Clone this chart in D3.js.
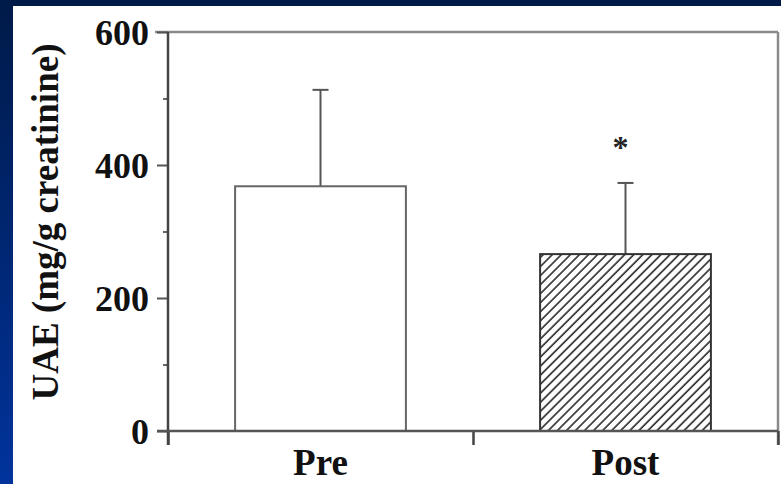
<!DOCTYPE html>
<html><head><meta charset="utf-8">
<script src="https://cdn.jsdelivr.net/npm/d3@7"></script>
<style>html,body{margin:0;padding:0;background:#fff;overflow:hidden}</style>
</head><body>
<svg id="c" width="781" height="484"></svg>
<script>
const categories = ["Pre", "Post"];
const means = [368, 266];
const sds = [145, 107];
const significant = [false, true];
const majorTicks = [0, 200, 400, 600];
const minorTicks = [100, 300, 500];
const yTitle = "UAE (mg/g creatinine)";

const svg = d3.select("#c");
const defs = svg.append("defs");
const grad = defs.append("linearGradient").attr("id","lb").attr("x1",0).attr("y1",0).attr("x2",0).attr("y2",1);
grad.append("stop").attr("offset","0%").attr("stop-color","#001a48");
grad.append("stop").attr("offset","100%").attr("stop-color","#00339c");
const pat = defs.append("pattern").attr("id","hatch").attr("patternUnits","userSpaceOnUse")
  .attr("width",6.4).attr("height",6.4).attr("patternTransform","rotate(45)");
pat.append("rect").attr("width",6.4).attr("height",6.4).attr("fill","#fff");
pat.append("line").attr("x1",1).attr("y1",0).attr("x2",1).attr("y2",6.4).attr("stroke","#2a2a2a").attr("stroke-width",1.6);

// background bands
svg.append("rect").attr("x",0).attr("y",0).attr("width",781).attr("height",484).attr("fill","#fff");
svg.append("rect").attr("x",0).attr("y",0).attr("width",781).attr("height",6).attr("fill","#001a48");
svg.append("rect").attr("x",0).attr("y",0).attr("width",13).attr("height",484).attr("fill","url(#lb)");

const L = 168, R = 778, T = 32, B = 431;
const y = d3.scaleLinear().domain([0, 600]).range([B, T]);
const x = d3.scaleBand().domain(categories).range([L, R]).paddingInner(0).paddingOuter(0);
const bw = x.bandwidth() * 0.56;
const bnd = d3.scaleLinear().domain([0, categories.length]).range([L, R]);

const font = "'Liberation Serif','Times New Roman',serif";

// frame top & right
svg.append("line").attr("x1",155).attr("x2",R).attr("y1",T).attr("y2",T).attr("stroke","#8a8a8a").attr("stroke-width",2.5);
svg.append("line").attr("x1",R).attr("x2",R).attr("y1",T).attr("y2",445).attr("stroke","#8a8a8a").attr("stroke-width",2.5);

// bars
const g = svg.append("g");
categories.forEach((c,i)=>{
  const bx = x(c) + (x.bandwidth()-bw)/2;
  const cx = x(c) + x.bandwidth()/2;
  g.append("line").attr("x1",cx).attr("x2",cx).attr("y1",y(means[i])).attr("y2",y(means[i]+sds[i])).attr("stroke","#555").attr("stroke-width",2);
  g.append("line").attr("x1",cx-8).attr("x2",cx+8).attr("y1",y(means[i]+sds[i])).attr("y2",y(means[i]+sds[i])).attr("stroke","#555").attr("stroke-width",2);
  g.append("rect").attr("x",bx).attr("y",y(means[i])).attr("width",bw).attr("height",y(0)-y(means[i]))
    .attr("fill", i===0 ? "#fff" : "url(#hatch)").attr("stroke", i===0 ? "#666" : "#333").attr("stroke-width",2);
  if (significant[i]) {
    g.append("text").attr("x",cx-5).attr("y",y(means[i]+sds[i])-25).attr("text-anchor","middle")
      .attr("font-family",font).attr("font-weight","bold").attr("font-size",32).attr("fill","#222").text("*");
  }
});

// y axis
const ya = svg.append("g").attr("transform",`translate(${L},0)`)
  .call(d3.axisLeft(y).tickValues(majorTicks).tickSize(11).tickPadding(8).tickFormat(d3.format("d")));
ya.select(".domain").remove();
ya.selectAll(".tick line").attr("stroke","#555").attr("stroke-width",2);
ya.selectAll(".tick text").attr("font-family",font).attr("font-weight","bold").attr("font-size",36).attr("fill","#111")
  .attr("dy","0.34em");
const ym = svg.append("g").attr("transform",`translate(${L},0)`)
  .call(d3.axisLeft(y).tickValues(minorTicks).tickSize(5).tickFormat(""));
ym.select(".domain").remove();
ym.selectAll(".tick line").attr("stroke","#666").attr("stroke-width",2);
svg.append("line").attr("x1",L).attr("x2",L).attr("y1",T).attr("y2",445).attr("stroke","#444").attr("stroke-width",2.5);

// x axis boundaries
const xb = svg.append("g").attr("transform",`translate(0,${B})`)
  .call(d3.axisBottom(bnd).tickValues(d3.range(categories.length+1)).tickSize(14).tickFormat(""));
xb.select(".domain").remove();
xb.selectAll(".tick line").attr("stroke","#444").attr("stroke-width",2.5);
svg.append("line").attr("x1",157).attr("x2",R).attr("y1",B).attr("y2",B).attr("stroke","#555").attr("stroke-width",2.5);

// category labels
const xa = svg.append("g").attr("transform",`translate(0,${B})`)
  .call(d3.axisBottom(x).tickSize(0).tickPadding(0));
xa.select(".domain").remove();
xa.selectAll(".tick text").attr("font-family",font).attr("font-weight","bold").attr("font-size",37).attr("fill","#111")
  .attr("dy",0).attr("y",44);

// y title
svg.append("text").attr("transform",`translate(58,222) rotate(-90)`).attr("text-anchor","middle")
  .attr("font-family",font).attr("font-weight","bold").attr("font-size",37).attr("fill","#111").text(yTitle);
</script>
</body></html>
